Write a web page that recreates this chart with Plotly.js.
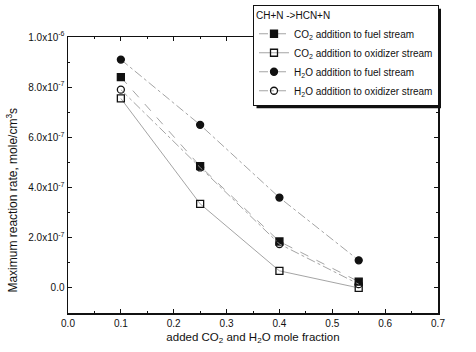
<!DOCTYPE html>
<html><head><meta charset="utf-8">
<script src="https://cdn.plot.ly/plotly-3.0.1.min.js"></script>
<style>body{margin:0;background:#fff}#c{width:476px;height:352px}</style>
</head><body><div id="c"></div>
<script>
const xFrac = [0.1, 0.25, 0.4, 0.55];
const co2Fuel = [8.4e-7, 4.85e-7, 1.85e-7, 0.25e-7];
const co2Oxid = [7.55e-7, 3.35e-7, 0.68e-7, 0.0];
const h2oFuel = [9.1e-7, 6.5e-7, 3.6e-7, 1.1e-7];
const h2oOxid = [7.9e-7, 4.8e-7, 1.75e-7, 0.15e-7];
const seriesNames = [
  "CO<sub>2</sub> addition to fuel stream",
  "CO<sub>2</sub> addition to oxidizer stream",
  "H<sub>2</sub>O addition to fuel stream",
  "H<sub>2</sub>O addition to oxidizer stream"
];
const legendTitle = 'CH+N ->HCN+N';
const xTitle = 'added CO<sub>2</sub> and H<sub>2</sub>O mole fraction';
const yTitle = 'Maximum reaction rate, mole/cm<sup>3</sup>s';
const yTickVals = [0, 2e-7, 4e-7, 6e-7, 8e-7, 1e-6];
const yTickText = ["0.0", "2.0x10<sup>-7</sup>", "4.0x10<sup>-7</sup>", "6.0x10<sup>-7</sup>", "8.0x10<sup>-7</sup>", "1.0x10<sup>-6</sup>"];
const xTickVals = [0, 0.1, 0.2, 0.3, 0.4, 0.5, 0.6, 0.7];
const xTickText = ["0.0", "0.1", "0.2", "0.3", "0.4", "0.5", "0.6", "0.7"];

const ink = '#111';
const lineCol = '#9a9a9a';
function tr(y, name, sym, dash) {
  return {x: xFrac, y: y, name: name, type: 'scatter', mode: 'lines+markers',
    line: {color: lineCol, width: 0.9, dash: dash},
    marker: {symbol: sym, size: 7, color: ink, line: {color: ink, width: 1.3}}};
}
const data = [
  tr(co2Fuel, seriesNames[0], 'square', 'dash'),
  tr(co2Oxid, seriesNames[1], 'square-open', 'solid'),
  tr(h2oFuel, seriesNames[2], 'circle', 'dashdot'),
  tr(h2oOxid, seriesNames[3], 'circle-open', 'dashdot')
];
const fam = 'Liberation Sans, Arial, sans-serif';
const f = (s) => ({family: fam, size: s, color: ink});
const layout = {
  width: 476, height: 352,
  margin: {l: 68, r: 38, t: 37, b: 39, autoexpand: false},
  paper_bgcolor: '#fff', plot_bgcolor: '#fff',
  font: f(10),
  showlegend: true,
  legend: {x: 0.5, y: 1.115, xanchor: 'left', yanchor: 'top',
    bgcolor: '#fff', bordercolor: ink, borderwidth: 1,
    font: f(10),
    title: {text: legendTitle, font: f(10)},
    tracegroupgap: 0, itemwidth: 30},
  xaxis: {range: [0, 0.7], tickvals: xTickVals, ticktext: xTickText,
    ticks: 'inside', ticklen: 4, tickwidth: 1, tickcolor: ink,
    minor: {dtick: 0.05, ticks: 'inside', ticklen: 2, tickcolor: ink},
    showline: true, linecolor: ink, linewidth: 1.5, mirror: 'ticks',
    showgrid: false, zeroline: false,
    tickfont: f(10),
    title: {text: xTitle, font: f(11.5), standoff: 5}},
  yaxis: {range: [-1e-7, 1e-6], tickvals: yTickVals, ticktext: yTickText,
    ticks: 'inside', ticklen: 4, tickwidth: 1, tickcolor: ink,
    minor: {dtick: 1e-7, ticks: 'inside', ticklen: 2, tickcolor: ink},
    showline: true, linecolor: ink, linewidth: 1.5, mirror: 'ticks',
    showgrid: false, zeroline: false,
    tickfont: f(10)},
  annotations: [{text: yTitle, textangle: -90, xref: 'paper', yref: 'paper',
    x: -0.152, y: 0.41, xanchor: 'center', yanchor: 'middle', showarrow: false, font: f(12)}]
};
Plotly.newPlot('c', data, layout, {displayModeBar: false, staticPlot: true}).then(function (gd) {
  const bg = gd.querySelector('.legend .bg');
  if (!bg) return;
  const r = bg.getBoundingClientRect();
  const c = gd.getBoundingClientRect();
  const s = gd._fullLayout._size;
  const px = (X) => (X - c.left - s.l) / s.w;
  const py = (Y) => 1 - (Y - c.top - s.t) / s.h;
  return Plotly.relayout(gd, {shapes: [{type: 'rect', xref: 'paper', yref: 'paper',
    x0: px(r.left + 3), x1: px(r.right + 2.5), y0: py(r.bottom + 2.5), y1: py(r.top + 3),
    fillcolor: ink, line: {width: 0}, layer: 'above'}]});
});
</script></body></html>
